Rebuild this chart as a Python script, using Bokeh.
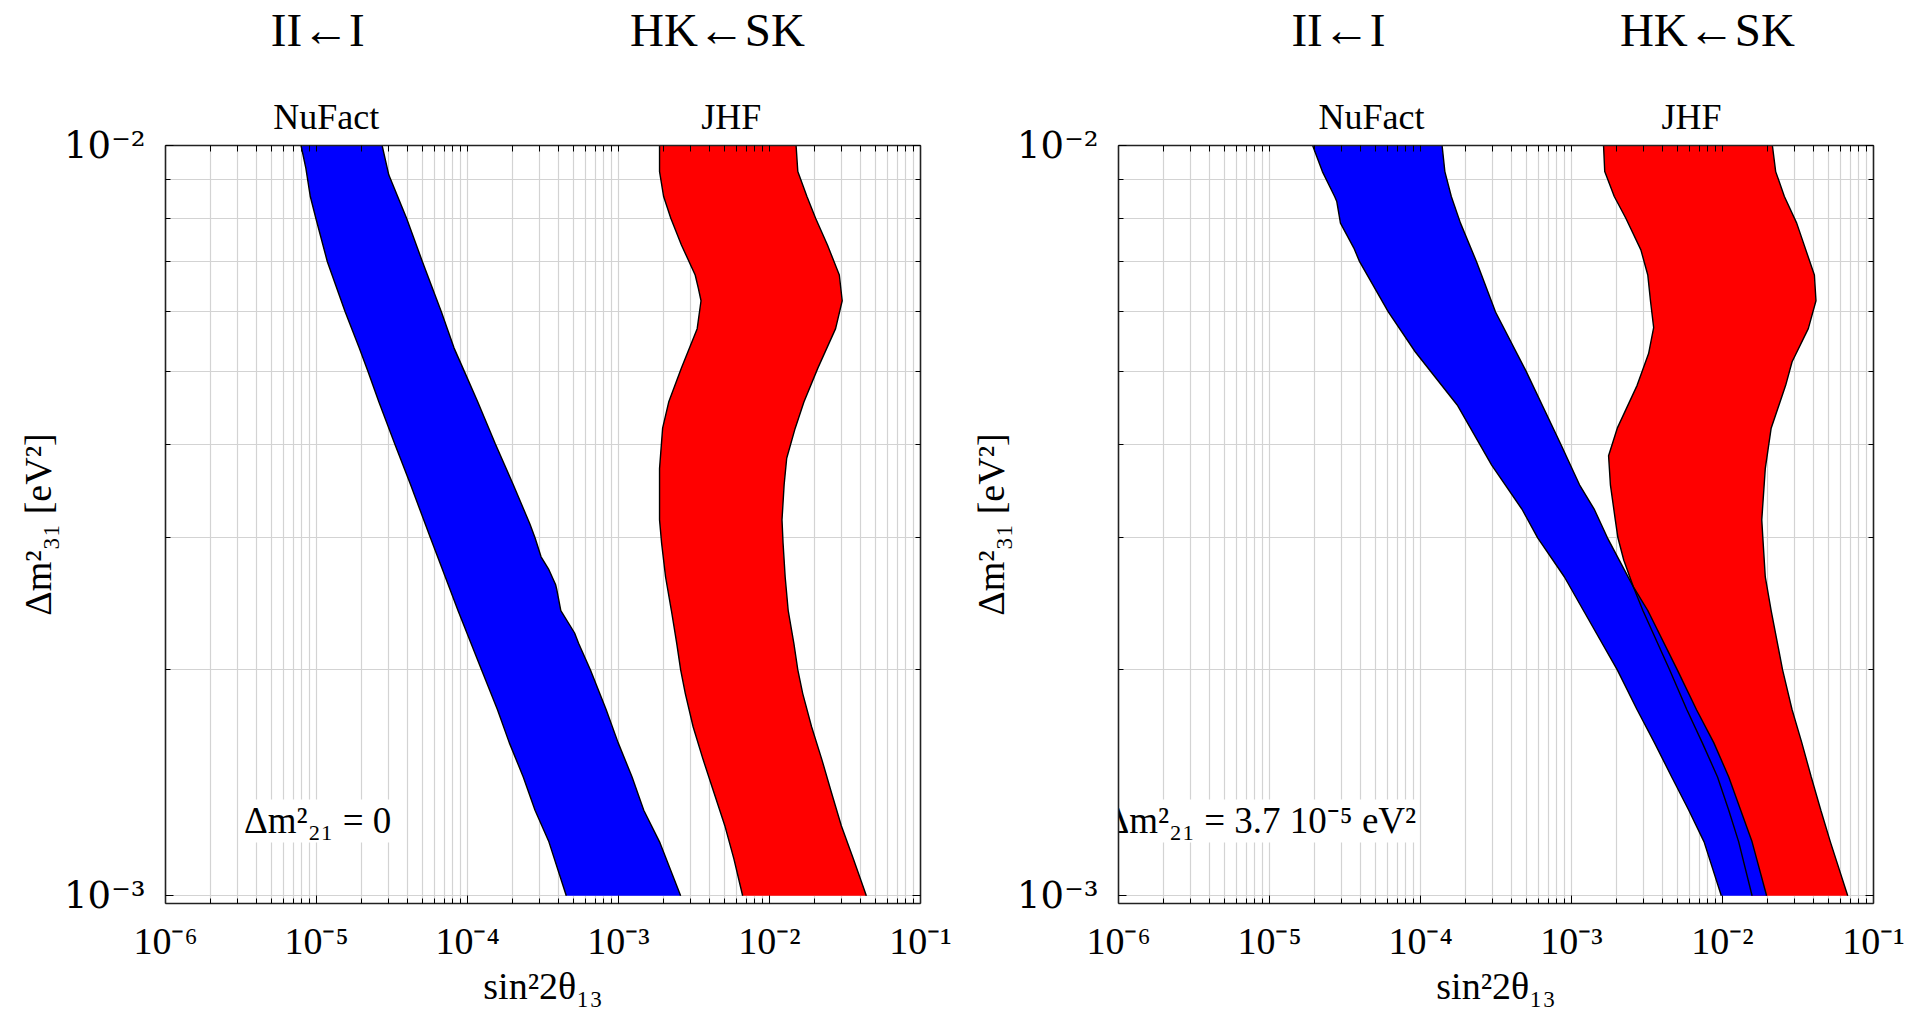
from bokeh.plotting import figure
from bokeh.layouts import row
from bokeh.models import FixedTicker, LogAxis, CustomJSTickFormatter, ColumnDataSource
from bokeh.core.properties import value
from bokeh.embed import file_html
from bokeh.resources import INLINE

# ---------------- data ----------------
# Left panel: dm21 = 0
L_nufact_left_dm = [1.0e-2, 9.33e-3, 8.55e-3, 8.0e-3, 7.0e-3, 6.0e-3, 5.37e-3, 5.0e-3, 4.55e-3, 4.0e-3,
                    3.53e-3, 3.0e-3, 2.66e-3, 2.40e-3, 2.0e-3, 1.77e-3, 1.60e-3, 1.44e-3, 1.30e-3, 1.18e-3, 1.0e-3]
L_nufact_left_s = [7.9e-6, 8.5e-6, 9.1e-6, 9.9e-6, 1.18e-5, 1.55e-5, 1.92e-5, 2.19e-5, 2.59e-5, 3.3e-5,
                   4.2e-5, 5.68e-5, 7.13e-5, 8.65e-5, 1.24e-4, 1.58e-4, 1.89e-4, 2.34e-4, 2.8e-4, 3.46e-4, 4.51e-4]
L_nufact_right_dm = [1.0e-2, 9.14e-3, 8.0e-3, 7.0e-3, 6.0e-3, 5.37e-3, 5.0e-3, 4.55e-3, 4.0e-3, 3.53e-3,
                     3.13e-3, 3.0e-3, 2.83e-3, 2.72e-3, 2.60e-3, 2.56e-3, 2.40e-3, 2.24e-3, 2.17e-3, 2.0e-3,
                     1.77e-3, 1.60e-3, 1.44e-3, 1.30e-3, 1.18e-3, 1.0e-3]
L_nufact_right_s = [2.72e-5, 3.01e-5, 3.95e-5, 5.03e-5, 6.72e-5, 8.15e-5, 9.53e-5, 1.17e-4, 1.53e-4, 2.01e-4,
                    2.59e-4, 2.8e-4, 3.07e-4, 3.46e-4, 3.83e-4, 3.9e-4, 4.15e-4, 5.12e-4, 5.44e-4, 6.52e-4,
                    8.29e-4, 9.94e-4, 1.23e-3, 1.47e-3, 1.87e-3, 2.58e-3]
L_jhf_left_dm = [1.0e-2, 9.23e-3, 8.55e-3, 8.0e-3, 7.37e-3, 6.72e-3, 6.45e-3, 6.21e-3, 5.70e-3, 5.05e-3,
                 4.55e-3, 4.20e-3, 3.71e-3, 3.17e-3, 2.95e-3, 2.66e-3, 2.40e-3, 2.17e-3, 2.0e-3, 1.86e-3,
                 1.68e-3, 1.52e-3, 1.37e-3, 1.24e-3, 1.12e-3, 1.0e-3]
L_jhf_left_s = [1.87e-3, 1.87e-3, 1.99e-3, 2.22e-3, 2.61e-3, 3.22e-3, 3.38e-3, 3.52e-3, 3.32e-3, 2.61e-3,
                2.15e-3, 1.96e-3, 1.87e-3, 1.87e-3, 1.93e-3, 2.05e-3, 2.24e-3, 2.43e-3, 2.58e-3, 2.77e-3,
                3.12e-3, 3.63e-3, 4.3e-3, 5.06e-3, 5.81e-3, 6.64e-3]
L_jhf_right_dm = [1.0e-2, 9.23e-3, 8.55e-3, 8.0e-3, 7.37e-3, 6.72e-3, 6.21e-3, 5.70e-3, 5.05e-3, 4.55e-3,
                  4.20e-3, 3.83e-3, 3.53e-3, 3.17e-3, 2.95e-3, 2.66e-3, 2.40e-3, 2.17e-3, 2.0e-3, 1.86e-3,
                  1.68e-3, 1.52e-3, 1.37e-3, 1.24e-3, 1.12e-3, 1.0e-3]
L_jhf_right_s = [1.50e-2, 1.54e-2, 1.77e-2, 2.02e-2, 2.42e-2, 2.90e-2, 3.03e-2, 2.74e-2, 2.09e-2, 1.69e-2,
                 1.48e-2, 1.30e-2, 1.25e-2, 1.21e-2, 1.23e-2, 1.27e-2, 1.33e-2, 1.45e-2, 1.54e-2, 1.66e-2,
                 1.90e-2, 2.22e-2, 2.58e-2, 2.99e-2, 3.59e-2, 4.38e-2]

# Right panel: dm21 = 3.7e-5 eV^2
R_nufact_left_dm = [1.0e-2, 9.23e-3, 8.55e-3, 8.42e-3, 7.88e-3, 7.30e-3, 7.0e-3, 6.0e-3, 5.31e-3, 4.51e-3,
                    3.75e-3, 3.27e-3, 3.0e-3, 2.66e-3, 2.40e-3, 2.0e-3, 1.77e-3, 1.60e-3, 1.44e-3, 1.30e-3,
                    1.18e-3, 1.0e-3]
R_nufact_left_s = [1.93e-5, 2.24e-5, 2.70e-5, 2.79e-5, 2.95e-5, 3.62e-5, 3.95e-5, 6.12e-5, 9.22e-5, 1.75e-4,
                   2.96e-4, 4.72e-4, 5.97e-4, 8.98e-4, 1.20e-3, 2.01e-3, 2.72e-3, 3.54e-3, 4.61e-3, 5.98e-3,
                   7.55e-3, 9.82e-3]
R_nufact_right_dm = [1.0e-2, 9.23e-3, 8.55e-3, 7.88e-3, 7.0e-3, 6.19e-3, 6.0e-3, 5.0e-3, 4.0e-3, 3.53e-3,
                     3.27e-3, 3.0e-3, 2.58e-3, 2.40e-3, 2.0e-3, 1.77e-3, 1.60e-3, 1.44e-3, 1.30e-3, 1.18e-3, 1.0e-3]
R_nufact_right_s = [1.39e-4, 1.45e-4, 1.60e-4, 1.84e-4, 2.35e-4, 2.96e-4, 3.14e-4, 5.01e-4, 8.48e-4, 1.13e-3,
                    1.42e-3, 1.73e-3, 2.57e-3, 3.2e-3, 5.02e-3, 6.73e-3, 8.75e-3, 1.10e-2, 1.32e-2, 1.57e-2, 1.96e-2]
R_jhf_left_dm = [1.0e-2, 9.23e-3, 8.55e-3, 8.0e-3, 7.26e-3, 6.72e-3, 6.19e-3, 5.72e-3, 5.28e-3, 4.79e-3,
                 4.20e-3, 3.86e-3, 3.53e-3, 3.17e-3, 3.0e-3, 2.80e-3, 2.58e-3, 2.40e-3, 2.0e-3, 1.77e-3,
                 1.60e-3, 1.44e-3, 1.30e-3, 1.18e-3, 1.0e-3]
R_jhf_left_s = [1.63e-3, 1.66e-3, 1.92e-3, 2.29e-3, 2.88e-3, 3.2e-3, 3.34e-3, 3.5e-3, 3.24e-3, 2.72e-3,
                2.01e-3, 1.76e-3, 1.81e-3, 1.95e-3, 2.03e-3, 2.22e-3, 2.57e-3, 2.97e-3, 4.47e-3, 5.81e-3,
                7.34e-3, 9.27e-3, 1.10e-2, 1.28e-2, 1.57e-2]
R_jhf_right_dm = [1.0e-2, 9.23e-3, 8.55e-3, 7.88e-3, 6.72e-3, 6.21e-3, 5.70e-3, 5.15e-3, 4.79e-3, 4.20e-3,
                  3.71e-3, 3.17e-3, 3.0e-3, 2.66e-3, 2.40e-3, 2.0e-3, 1.77e-3, 1.60e-3, 1.44e-3, 1.30e-3,
                  1.18e-3, 1.0e-3]
R_jhf_right_s = [2.14e-2, 2.25e-2, 2.57e-2, 3.10e-2, 4.06e-2, 4.16e-2, 3.70e-2, 2.89e-2, 2.62e-2, 2.10e-2,
                 1.92e-2, 1.82e-2, 1.85e-2, 1.92e-2, 2.10e-2, 2.50e-2, 2.89e-2, 3.35e-2, 3.87e-2, 4.48e-2,
                 5.18e-2, 6.75e-2]

X_MAJOR = [1e-6, 1e-5, 1e-4, 1e-3, 1e-2, 1e-1]
X_TICK_LABELS = ["10⁻⁶", "10⁻⁵", "10⁻⁴", "10⁻³", "10⁻²", "10⁻¹"]
Y_MAJOR = [1e-3, 1e-2]
Y_TICK_LABELS = ["10⁻³", "10⁻²"]

TITLES = ["II←I", "HK←SK"]
EXPERIMENTS = ["NuFact", "JHF"]
ANNOTATIONS = ["Δm²₂₁ = 0", "Δm²₂₁ = 3.7 10⁻⁵ eV²"]
X_LABEL = "sin²2θ₁₃"
Y_LABEL = "Δm²₃₁ [eV²]"

# ---------------- layout / style ----------------
SERIF = "Liberation Serif"
X_MINOR = [m * d for d in X_MAJOR[:-1] for m in range(2, 10)]
Y_MINOR = [m * 1e-3 for m in range(2, 10)]
Y_START = 10 ** -3.0103
ANN_Y = 10 ** -2.9003
GRID = "#d3d3d3"
FRAME = "#222222"


def fmt(vals, labs):
    return CustomJSTickFormatter(args=dict(vals=vals, labs=labs), code="""
        for (let i = 0; i < vals.length; i++) {
            if (Math.abs(Math.log10(tick) - Math.log10(vals[i])) < 1e-6) return labs[i];
        }
        return "";
    """)


def make_panel(bands, ann_text, ann_x, title_x, exp_x, bl, br):
    p = figure(x_axis_type="log", y_axis_type="log",
               x_range=(1e-6, 1e-1), y_range=(Y_START, 1e-2),
               frame_width=755, frame_height=758,
               min_border_left=bl, min_border_right=br, min_border_top=145, min_border_bottom=107,
               output_backend="svg", toolbar_location=None)
    p.outline_line_color = None
    p.background_fill_color = "white"
    p.border_fill_color = "white"

    xt = FixedTicker(ticks=X_MAJOR, minor_ticks=X_MINOR)
    yt = FixedTicker(ticks=Y_MAJOR, minor_ticks=Y_MINOR)
    p.xaxis.ticker = xt
    p.yaxis.ticker = yt
    p.xgrid.ticker = xt
    p.ygrid.ticker = yt
    for g in (p.xgrid, p.ygrid):
        g.grid_line_color = GRID
        g.minor_grid_line_color = GRID
        g.grid_line_width = 1.2
        g.minor_grid_line_width = 1.2

    p.xaxis.formatter = fmt(X_MAJOR, X_TICK_LABELS)
    p.yaxis.formatter = fmt(Y_MAJOR, Y_TICK_LABELS)

    for ax in (p.xaxis[0], p.yaxis[0]):
        ax.axis_line_color = FRAME
        ax.axis_line_width = 1.6
        ax.major_tick_in = 8
        ax.major_tick_out = 0
        ax.minor_tick_in = 5
        ax.minor_tick_out = 0
        ax.major_tick_line_color = "black"
        ax.minor_tick_line_color = "black"
        ax.axis_label_text_font = SERIF
        ax.axis_label_text_font_style = "normal"
        ax.axis_label_text_color = "black"
        ax.major_label_text_color = "black"

    p.xaxis.major_label_text_font = SERIF
    p.xaxis.major_label_text_font_size = "38px"
    p.xaxis.major_label_standoff = 16
    p.xaxis.axis_label = X_LABEL
    p.xaxis.axis_label_text_font_size = "38px"
    p.xaxis.axis_label_standoff = 0

    p.yaxis.major_label_text_font = "DejaVu Serif"
    p.yaxis.major_label_text_font_size = "37px"
    p.yaxis.major_label_standoff = 20
    p.yaxis.axis_label = Y_LABEL
    p.yaxis.axis_label_text_font_size = "38px"
    p.yaxis.axis_label_standoff = 2

    # right frame side: ticks only
    blank = CustomJSTickFormatter(code="return '';")
    right_ax = LogAxis(ticker=yt, formatter=blank,
                       major_label_text_font_size="10px", major_label_text_alpha=0.0,
                       axis_line_color=FRAME, axis_line_width=1.6,
                       major_tick_in=8, major_tick_out=0, minor_tick_in=5, minor_tick_out=0,
                       major_tick_line_color="black", minor_tick_line_color="black",
                       major_label_standoff=0)
    p.add_layout(right_ax, "right")

    # top frame side: ticks + experiment names
    exp_ax = LogAxis(ticker=FixedTicker(ticks=exp_x, minor_ticks=X_MAJOR + X_MINOR),
                     formatter=fmt(exp_x, EXPERIMENTS),
                     major_label_text_font=SERIF, major_label_text_font_size="36px",
                     major_label_text_color="black", major_label_standoff=9,
                     axis_line_color=FRAME, axis_line_width=1.6,
                     major_tick_in=0, major_tick_out=0, minor_tick_in=6, minor_tick_out=0,
                     minor_tick_line_color="black")
    p.add_layout(exp_ax, "above")

    # titles above
    title_ax = LogAxis(ticker=FixedTicker(ticks=title_x, minor_ticks=[]),
                       formatter=fmt(title_x, TITLES),
                       major_label_text_font=SERIF, major_label_text_font_size="47px",
                       major_label_text_color="black", major_label_standoff=38,
                       axis_line_color=None, major_tick_line_color=None, minor_tick_line_color=None,
                       major_tick_in=0, major_tick_out=0, minor_tick_in=0, minor_tick_out=0)
    p.add_layout(title_ax, "above")

    (nl_dm, nl_s, nr_dm, nr_s), (jl_dm, jl_s, jr_dm, jr_s) = bands
    # fills
    p.patch(x=jl_s + jr_s[::-1], y=jl_dm + jr_dm[::-1], fill_color="#ff0000", line_color=None)
    p.patch(x=nl_s + nr_s[::-1], y=nl_dm + nr_dm[::-1], fill_color="#0000ff", line_color=None)
    # outlines
    for xs, ys in ((jl_s, jl_dm), (jr_s, jr_dm), (nl_s, nl_dm), (nr_s, nr_dm)):
        p.line(x=xs, y=ys, line_color="black", line_width=1.4)

    src = ColumnDataSource(dict(x=[ann_x], y=[ANN_Y], t=[ann_text]))
    p.text(x="x", y="y", text="t", source=src, text_font=value(SERIF), text_font_size="37px",
           text_align="left", text_baseline="middle", text_color="black",
           background_fill_color="white", padding=1)
    return p


p1 = make_panel(((L_nufact_left_dm, L_nufact_left_s, L_nufact_right_dm, L_nufact_right_s),
                 (L_jhf_left_dm, L_jhf_left_s, L_jhf_right_dm, L_jhf_right_s)),
                ANNOTATIONS[0], 3.26e-6, [1.02e-5, 4.52e-3], [1.16e-5, 5.58e-3], 165, 38)
p2 = make_panel(((R_nufact_left_dm, R_nufact_left_s, R_nufact_right_dm, R_nufact_right_s),
                 (R_jhf_left_dm, R_jhf_left_s, R_jhf_right_dm, R_jhf_right_s)),
                ANNOTATIONS[1], 10 ** -6.093, [2.86e-5, 7.94e-3], [4.73e-5, 6.24e-3], 160, 43)

layout = row(p1, p2, spacing=0)
open("out.html", "w").write(file_html(layout, INLINE))
